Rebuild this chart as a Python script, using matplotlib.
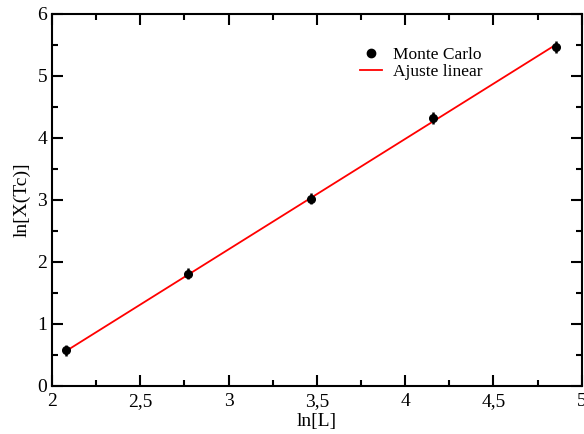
import matplotlib
matplotlib.use("Agg")
import matplotlib.pyplot as plt
from matplotlib.lines import Line2D
from matplotlib.ticker import MultipleLocator, FuncFormatter

# data
lnL = [2.079, 2.773, 3.466, 4.159, 4.852]
lnX = [0.57, 1.81, 3.02, 4.32, 5.47]
lnX_err = [0.09, 0.09, 0.09, 0.09, 0.10]

# linear fit line end points
fit_x = [2.079, 4.852]
fit_y = [0.56, 5.50]

plt.rcParams['font.family'] = ['Liberation Serif', 'DejaVu Serif']

fig = plt.figure(figsize=(5.84, 4.34), dpi=100)
ax = fig.add_axes([0.089, 0.111, 0.907, 0.857])

ax.errorbar(lnL, lnX, yerr=lnX_err, fmt='o', color='black', markersize=5.5,
            elinewidth=1.8, capsize=0, zorder=3)
ax.plot(fit_x, fit_y, color='red', linewidth=1.3, zorder=2)

ax.set_xlim(2, 5)
ax.set_ylim(0, 6)
ax.xaxis.set_major_locator(MultipleLocator(0.5))
ax.xaxis.set_minor_locator(MultipleLocator(0.25))
ax.yaxis.set_major_locator(MultipleLocator(1))
ax.yaxis.set_minor_locator(MultipleLocator(0.5))

def comma(v, pos):
    s = ('%g' % v)
    return s.replace('.', ',')

ax.xaxis.set_major_formatter(FuncFormatter(comma))
ax.yaxis.set_major_formatter(FuncFormatter(comma))

ax.tick_params(which='both', direction='in', top=True, right=True, width=1.5, labelsize=14)
ax.tick_params(which='major', length=8)
ax.tick_params(axis='x', which='major', pad=5)
ax.tick_params(which='minor', length=4)
for s in ax.spines.values():
    s.set_linewidth(1.5)

ax.set_xlabel('ln[L]', fontsize=14, labelpad=2)
ax.set_ylabel('ln[X(Tc)]', fontsize=14, labelpad=5)

handles = [Line2D([], [], linestyle='none', marker='o', color='black', markersize=6),
           Line2D([], [], color='red', linewidth=1.3)]
ax.legend(handles, ['Monte Carlo', 'Ajuste linear'], loc='upper left',
          bbox_to_anchor=(0.568, 0.93), frameon=False, fontsize=12.5,
          handlelength=1.3, handletextpad=0.6, labelspacing=0.05, borderaxespad=0)

plt.savefig('out.png', dpi=100)
plt.close()
